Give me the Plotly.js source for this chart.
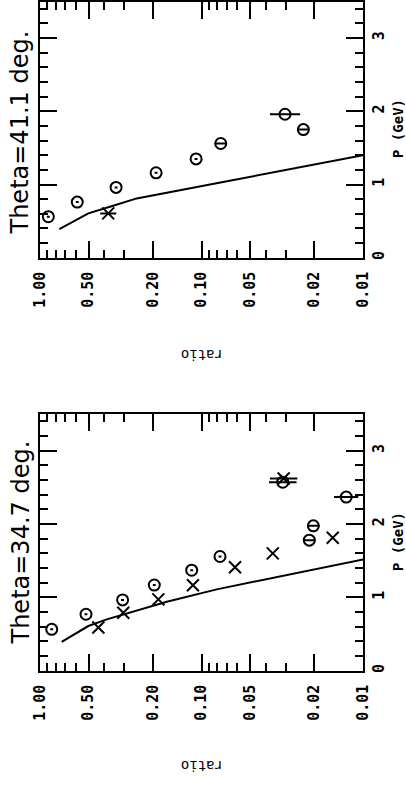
<!DOCTYPE html>
<html>
<head>
<meta charset="utf-8">
<script src="https://cdn.plot.ly/plotly-3.0.1.min.js"></script>
<style>html,body{margin:0;padding:0;background:#fff;}#chart{width:406px;height:788px;}</style>
</head>
<body>
<div id="chart"></div>
<script>
// ---- Data (P in GeV, ratio) ----
// Panel A: Theta = 41.1 deg
const titleA = "Theta=41.1 deg.";
const circA_P = [0.56, 0.76, 0.96, 1.16, 1.35, 1.56, 1.96, 1.75];
const circA_R = [0.888, 0.588, 0.338, 0.191, 0.108, 0.076, 0.0304, 0.0234];
const circA_Eplus = [0.019, 0.012, 0.007, 0.004, 0.0023, 0.0068, 0.0073, 0.0021];
const circA_Eminus = [0.018, 0.012, 0.0068, 0.0038, 0.0022, 0.0062, 0.0059, 0.0019];
const crossA_P = [0.605];
const crossA_R = [0.378];
const crossA_Eplus = [0.046];
const crossA_Eminus = [0.041];
const lineA_P = [0.39, 0.605, 0.695, 0.81, 1.00, 1.40];
const lineA_R = [0.759, 0.502, 0.369, 0.252, 0.0886, 0.0100];

// Panel B: Theta = 34.7 deg
const titleB = "Theta=34.7 deg.";
const circB_P = [0.564, 0.77, 0.965, 1.168, 1.37, 1.557, 1.78, 1.975, 2.57, 2.367];
const circB_R = [0.846, 0.519, 0.308, 0.196, 0.115, 0.0768, 0.0215, 0.0203, 0.0314, 0.0127];
const circB_Eplus = [0.018, 0.011, 0.0065, 0.0041, 0.0024, 0.0016, 0.0019, 0.0018, 0.0068, 0.0024];
const circB_Eminus = [0.017, 0.010, 0.0062, 0.0039, 0.0023, 0.0015, 0.0018, 0.0017, 0.0056, 0.0020];
const crossB_P = [0.59, 0.79, 0.973, 1.165, 1.41, 1.60, 1.812, 2.62];
const crossB_R = [0.435, 0.305, 0.185, 0.113, 0.062, 0.0362, 0.0154, 0.031];
const crossB_Eplus = [0, 0, 0, 0, 0, 0, 0, 0.0067];
const crossB_Eminus = [0, 0, 0, 0, 0, 0, 0, 0.0055];
const lineB_P = [0.392, 0.609, 0.70, 0.837, 0.94, 1.109, 1.518];
const lineB_R = [0.734, 0.502, 0.386, 0.24, 0.164, 0.0805, 0.00995];

// Axis ticks
const ratioTickVals = [1, 0.5, 0.2, 0.1, 0.05, 0.02, 0.01];
const ratioTickText = ["1.00", "0.50", "0.20", "0.10", "0.05", "0.02", "0.01"];
const ratioMinorVals = [0.9, 0.8, 0.7, 0.6, 0.4, 0.3, 0.09, 0.08, 0.07, 0.06, 0.04, 0.03];
const pTickVals = [0, 1, 2, 3];
const pTickText = ["0", "1", "2", "3"];
const xTitle = "P (GeV)";
const yTitle = "ratio";

// ---- Build ----
function errObj(plus, minus) {
  return {type: 'data', symmetric: false, array: plus, arrayminus: minus,
          thickness: 2, width: 0, color: 'black'};
}
function circles(P, R, ep, em, xa, ya) {
  return {x: R, y: P, xaxis: xa, yaxis: ya, mode: 'markers', type: 'scatter',
          marker: {symbol: 'circle-open', size: 11, color: 'black', line: {width: 2, color: 'black'}},
          error_x: errObj(ep, em), showlegend: false, cliponaxis: false};
}
function crosses(P, R, ep, em, xa, ya) {
  return {x: R, y: P, xaxis: xa, yaxis: ya, mode: 'markers', type: 'scatter',
          marker: {symbol: 'x-thin-open', size: 12, color: 'black', line: {width: 2, color: 'black'}},
          error_x: errObj(ep, em), showlegend: false, cliponaxis: false};
}
function curve(P, R, xa, ya) {
  return {x: R, y: P, xaxis: xa, yaxis: ya, mode: 'lines', type: 'scatter',
          line: {color: 'black', width: 2}, showlegend: false};
}

const data = [
  curve(lineA_P, lineA_R, 'x', 'y'),
  circles(circA_P, circA_R, circA_Eplus, circA_Eminus, 'x', 'y'),
  crosses(crossA_P, crossA_R, crossA_Eplus, crossA_Eminus, 'x', 'y'),
  curve(lineB_P, lineB_R, 'x2', 'y2'),
  circles(circB_P, circB_R, circB_Eplus, circB_Eminus, 'x2', 'y2'),
  crosses(crossB_P, crossB_R, crossB_Eplus, crossB_Eminus, 'x2', 'y2')
];

const tickFont = {family: 'DejaVu Sans Mono', size: 15, weight: 'bold', color: 'black'};

function ratioAxis(anchor) {
  return {
    type: 'log', range: [0, -2], domain: [0, 1], anchor: anchor,
    tickmode: 'array', tickvals: ratioTickVals, ticktext: ratioTickText,
    ticks: 'inside', ticklen: 17, tickwidth: 2, tickcolor: 'black',
    minor: {ticks: 'inside', tickmode: 'array', tickvals: ratioMinorVals, ticklen: 8, tickwidth: 2, tickcolor: 'black', showgrid: false},
    showline: true, linewidth: 2, linecolor: 'black', mirror: 'allticks',
    showgrid: false, zeroline: false, tickangle: -90, tickfont: tickFont,
    ticklabelstandoff: 6, automargin: false, fixedrange: true
  };
}
function pAxis(anchor, domain) {
  return {
    range: [0, 3.5], domain: domain, anchor: anchor, side: 'right',
    tickmode: 'array', tickvals: pTickVals, ticktext: pTickText,
    ticks: 'inside', ticklen: 17, tickwidth: 2, tickcolor: 'black',
    minor: {ticks: 'inside', dtick: 0.2, ticklen: 8, tickwidth: 2, tickcolor: 'black', showgrid: false},
    showline: true, linewidth: 2, linecolor: 'black', mirror: 'allticks',
    showgrid: false, zeroline: false, tickangle: -90, tickfont: tickFont,
    ticklabelstandoff: 1, automargin: false, fixedrange: true
  };
}

const H = 788;
function py(px) { return (H - px) / H; }
function pxX(px) { return (px - 40) / 323; }

const titleFont = {family: 'DejaVu Sans', size: 24, color: 'black'};
const labFont = {family: 'DejaVu Sans Mono', size: 14, weight: 'bold', color: 'black'};
const ratioFont = {family: 'DejaVu Sans Mono', size: 14, color: 'black'};

const annotations = [
  {text: titleA, xref: 'paper', yref: 'paper', x: pxX(20), y: py(132.5), xanchor: 'center', yanchor: 'middle', textangle: -90, showarrow: false, font: titleFont},
  {text: titleB, xref: 'paper', yref: 'paper', x: pxX(20), y: py(542.5), xanchor: 'center', yanchor: 'middle', textangle: -90, showarrow: false, font: titleFont},
  {text: xTitle, xref: 'paper', yref: 'paper', x: pxX(398), y: py(129), xanchor: 'center', yanchor: 'middle', textangle: -90, showarrow: false, font: labFont},
  {text: xTitle, xref: 'paper', yref: 'paper', x: pxX(398), y: py(542), xanchor: 'center', yanchor: 'middle', textangle: -90, showarrow: false, font: labFont},
  {text: yTitle, xref: 'paper', yref: 'paper', x: pxX(202), y: py(355), xanchor: 'center', yanchor: 'middle', textangle: 180, showarrow: false, font: ratioFont},
  {text: yTitle, xref: 'paper', yref: 'paper', x: pxX(202), y: py(766), xanchor: 'center', yanchor: 'middle', textangle: 180, showarrow: false, font: ratioFont}
];

const layout = {
  width: 406, height: 788,
  margin: {l: 40, r: 43, t: 0, b: 0, pad: 0},
  paper_bgcolor: 'white', plot_bgcolor: 'white',
  showlegend: false,
  xaxis: ratioAxis('y'),
  yaxis: pAxis('x', [py(257.7), py(1.5)]),
  xaxis2: ratioAxis('y2'),
  yaxis2: pAxis('x2', [py(670.7), py(414)]),
  annotations: annotations
};

Plotly.newPlot('chart', data, layout, {displayModeBar: false, staticPlot: true});
</script>
</body>
</html>
